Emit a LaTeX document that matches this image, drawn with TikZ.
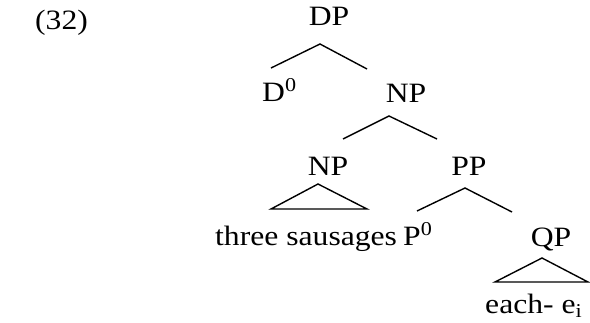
\documentclass[tikz,border=0pt]{standalone}
\usepackage{fontspec}
\setmainfont{Liberation Serif}[FakeStretch=1.13]

\begin{document}
\begin{tikzpicture}
[x=1pt,y=-1pt,%
  labelDecorate/.style={inner sep=0pt,anchor=base,font=\fontsize{28}{31}\selectfont},%
  branchDecorate/.style={-,line width=1.4pt}]
\useasboundingbox (0,0) rectangle (590,322);
\node[labelDecorate,anchor=base west] (ex) at (35,29) {(32)};
%% category labels
\foreach \nodename/\x/\y/\txt in {dp/329/25/DP, np1/406/102/NP, np2/328/175/NP, pp/469/175/PP, qp/551/246/QP}
{
  \node[labelDecorate] (\nodename) at (\x,\y) {\txt};
}
%% heads and terminals
\node[labelDecorate,anchor=base west] (d0) at (262,101) {D\textsuperscript{0}};
\node[labelDecorate,anchor=base west] (sausages) at (215,245) {three sausages};
\node[labelDecorate,anchor=base west] (p0) at (403,245) {P\textsuperscript{0}};
\node[labelDecorate,anchor=base west] (each) at (485,313) {each- e\textsubscript{i}};
%% branches
\draw[branchDecorate] ([xshift=-39pt,yshift=33pt]np1.base) -- ([xshift=-9pt,yshift=-19pt]dp.base) -- ([xshift=9pt,yshift=33pt]d0.base west);
\draw[branchDecorate] ([xshift=15pt,yshift=36pt]np2.base) -- ([xshift=-17pt,yshift=-14pt]np1.base) -- ([xshift=-32pt,yshift=36pt]pp.base);
\draw[branchDecorate] ([xshift=14pt,yshift=34pt]p0.base west) -- ([xshift=-4pt,yshift=-13pt]pp.base) -- ([xshift=-39pt,yshift=34pt]qp.base);
%% triangles
\draw[branchDecorate] ([xshift=-10pt,yshift=-9pt]np2.base) -- ([xshift=56pt,yshift=36pt]sausages.base west) -- ([xshift=152pt,yshift=36pt]sausages.base west) -- cycle;
\draw[branchDecorate] ([xshift=-9pt,yshift=-12pt]qp.base) -- ([xshift=10pt,yshift=31pt]each.base west) -- ([xshift=103pt,yshift=31pt]each.base west) -- cycle;
\end{tikzpicture}
\end{document}
